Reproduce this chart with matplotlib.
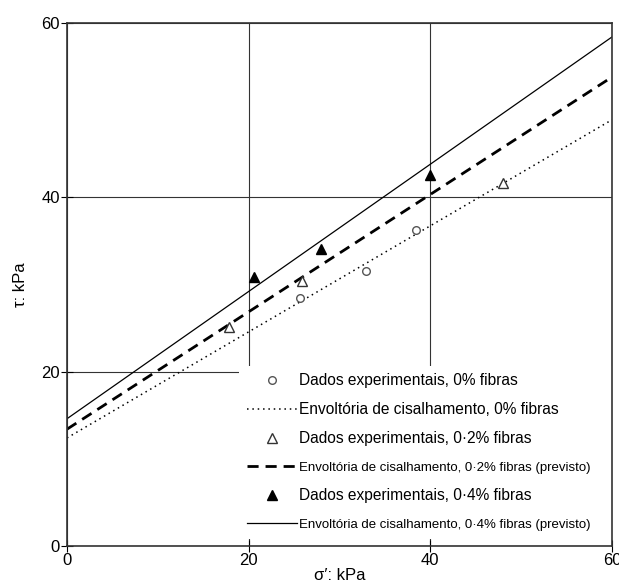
import numpy as np
import matplotlib
matplotlib.use("Agg")
import matplotlib.pyplot as plt

plt.rcParams["font.family"] = ["Liberation Sans", "DejaVu Sans"]

sig_0 = [25.7, 32.9, 38.4]
tau_0 = [28.4, 31.5, 36.3]
sig_02 = [17.8, 25.9, 48.0]
tau_02 = [25.1, 30.4, 41.6]
sig_04 = [20.6, 28.0, 40.0]
tau_04 = [30.9, 34.1, 42.6]

# shear envelopes: (sigma, tau) end points
env_sig = [0, 60]
env_0 = [12.4, 48.9]
env_02 = [13.4, 53.8]
env_04 = [14.6, 58.4]

labels = [
    "Dados experimentais, 0% fibras",
    "Envoltória de cisalhamento, 0% fibras",
    "Dados experimentais, 0·2% fibras",
    "Envoltória de cisalhamento, 0·2% fibras (previsto)",
    "Dados experimentais, 0·4% fibras",
    "Envoltória de cisalhamento, 0·4% fibras (previsto)",
]

fig = plt.figure(figsize=(6.19, 5.88), dpi=100)
ax = fig.add_axes([67 / 619, 42 / 588, 545 / 619, 523 / 588])

h0, = ax.plot(sig_0, tau_0, "o", ms=5.5, mfc="white", mec="#555555", mew=1.0, ls="none", zorder=4)
l0, = ax.plot(env_sig, env_0, color="black", lw=1.1, ls=(0, (1, 2.5)), zorder=3)
h02, = ax.plot(sig_02, tau_02, "^", ms=6.5, mfc="white", mec="#333333", mew=1.0, ls="none", zorder=4)
l02, = ax.plot(env_sig, env_02, color="black", lw=2.0, ls=(0, (4, 2.5)), zorder=3)
h04, = ax.plot(sig_04, tau_04, "^", ms=7, color="black", ls="none", zorder=4)
l04, = ax.plot(env_sig, env_04, color="black", lw=0.9, zorder=3)

ax.set_xlim(0, 60)
ax.set_ylim(0, 60)
ax.set_xticks([0, 20, 40, 60])
ax.set_yticks([0, 20, 40, 60])
ax.grid(True, color="#333333", lw=0.8, zorder=1)
ax.set_axisbelow(True)
ax.tick_params(direction="inout", length=8, width=0.8, labelsize=12, pad=1)
for s in ax.spines.values():
    s.set_linewidth(1.2)
    s.set_color("#333333")
    s.set_zorder(6)  # keep the frame on top of the legend box

ax.set_xlabel("σ′: kPa", fontsize=12, labelpad=0)
ax.set_ylabel("τ: kPa", fontsize=12, labelpad=10)

leg = ax.legend([h0, l0, h02, l02, h04, l04], labels,
                loc="upper left", bbox_to_anchor=(0.316, 0.0, 0.684, 0.345),
                mode="expand",
                frameon=True, framealpha=1, edgecolor="none", facecolor="white",
                fancybox=False, borderaxespad=0, fontsize=11.2,
                handlelength=3.2, handletextpad=0.15,
                labelspacing=0.9, borderpad=0.5)
leg.set_zorder(5)
for i, t in enumerate(leg.get_texts()):
    if i in (3, 5):
        t.set_fontsize(9.5)

fig.savefig("out.png", dpi=100)
